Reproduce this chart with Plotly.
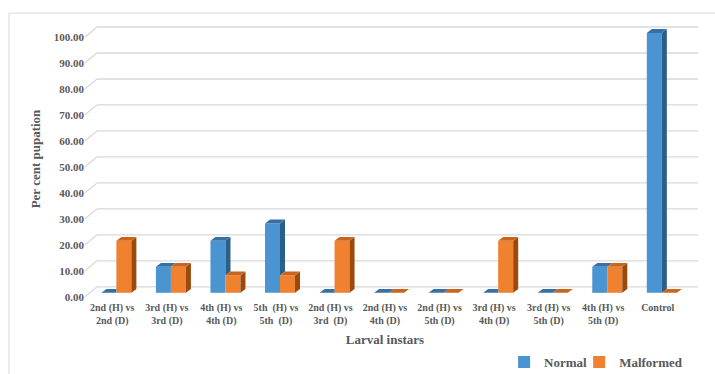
import plotly.graph_objects as go

categories = ["2nd (H) vs<br>2nd (D)", "3rd (H) vs<br>3rd (D)", "4th (H) vs<br>4th (D)",
              "5th  (H) vs<br>5th  (D)", "2nd (H) vs<br>3rd  (D)", "2nd (H) vs<br>4th (D)",
              "2nd (H) vs<br>5th (D)", "3rd (H) vs<br>4th (D)", "3rd (H) vs<br>5th (D)",
              "4th (H) vs<br>5th (D)", "Control"]
normal = [0, 10, 20, 26.67, 0, 0, 0, 0, 0, 10, 100]
malformed = [20, 10, 6.67, 6.67, 20, 0, 0, 20, 0, 10, 0]
y_ticks = [0, 10, 20, 30, 40, 50, 60, 70, 80, 90, 100]
y_ticktext = ["%.2f" % v for v in y_ticks]

FONT = "Liberation Serif, Times New Roman, serif"
GREY = "#595959"
BLUE, BLUE_SIDE, BLUE_TOP = "#4a94d2", "#2c5f87", "#3670a5"
ORANGE, ORANGE_SIDE, ORANGE_TOP = "#f0822f", "#9a4a0d", "#c9651c"

W = 0.275      # bar front width (x units)
OFF_B = -0.2   # blue offset
OFF_O = OFF_B + W
DX = 0.092     # depth in x units
DY = 1.5       # depth in y units
BACK = 2.3     # back wall offset (y units)
FRONT = -1.5   # label plane offset

xs = list(range(len(categories)))

fig = go.Figure()
fig.add_trace(go.Bar(x=xs, y=normal, name="Normal", marker=dict(color=BLUE, line=dict(width=0)),
                     width=W, offset=OFF_B, legend="legend"))
fig.add_trace(go.Bar(x=xs, y=malformed, name="Malformed", marker=dict(color=ORANGE, line=dict(width=0)),
                     width=W, offset=OFF_O, legend="legend2"))

def poly(pts, color):
    path = "M " + " L ".join("%f,%f" % p for p in pts) + " Z"
    return dict(type="path", path=path, xref="x", yref="y", fillcolor=color,
                line=dict(width=0), layer="above")

shapes = []
# back-wall gridlines and diagonal connectors
for v in y_ticks:
    shapes.append(dict(type="line", xref="paper", yref="y", x0=0.02, x1=1.022,
                       y0=v + BACK, y1=v + BACK, line=dict(color="#d9d9d9", width=1.3), layer="below"))
    shapes.append(dict(type="line", xref="paper", yref="y", x0=0.0, x1=0.02,
                       y0=v + FRONT, y1=v + BACK, line=dict(color="#d9d9d9", width=1.3), layer="below"))

for i, (b, o) in enumerate(zip(normal, malformed)):
    bx0 = i + OFF_B
    bx1 = bx0 + W
    if b > o:
        shapes.append(poly([(bx1, o), (bx1 + DX, o + DY), (bx1 + DX, b + DY), (bx1, b)], BLUE_SIDE))
        shapes.append(poly([(bx0, b), (bx1, b), (bx1 + DX, b + DY), (bx0 + DX, b + DY)], BLUE_TOP))
    elif b == o:
        shapes.append(poly([(bx0, b), (bx1, b), (bx1 + DX, b + DY), (bx0 + DX, b + DY)], BLUE_TOP))
    else:
        shapes.append(poly([(bx0, b), (bx1, b), (bx1, b + DY), (bx0 + DX, b + DY)], BLUE_TOP))
    ox0 = i + OFF_O
    ox1 = ox0 + W
    shapes.append(poly([(ox1, 0), (ox1 + DX, DY), (ox1 + DX, o + DY), (ox1, o)], ORANGE_SIDE))
    shapes.append(poly([(ox0, o), (ox1, o), (ox1 + DX, o + DY), (ox0 + DX, o + DY)], ORANGE_TOP))

# chart border (left and top visible)
shapes.append(dict(type="rect", xref="paper", yref="paper", x0=-0.1267, x1=1.2,
                   y0=-0.4, y1=1.025, line=dict(color="#d9d9d9", width=1), fillcolor="rgba(0,0,0,0)",
                   layer="below"))

legend_common = dict(orientation="h", xref="container", yref="container", y=0.032,
                     xanchor="left", yanchor="middle",
                     font=dict(family=FONT, size=13, color=GREY, weight="bold"),
                     bgcolor="rgba(0,0,0,0)")

fig.update_layout(
    width=715, height=374,
    margin=dict(l=85, r=30, t=20, b=76, autoexpand=False),
    paper_bgcolor="white", plot_bgcolor="white",
    barmode="overlay",
    shapes=shapes,
    font=dict(family=FONT, color=GREY),
    xaxis=dict(range=[-0.5, 10.5], tickvals=xs, ticktext=categories, showgrid=False,
               zeroline=False, showline=False, ticks="", automargin=False, ticklabelstandoff=2,
               tickfont=dict(family=FONT, size=10, color=GREY, weight="bold"),
               title=dict(text="<b>Larval instars</b>", font=dict(family=FONT, size=13, color=GREY),
                          standoff=17)),
    yaxis=dict(range=[-2, 105], tickvals=[v + FRONT for v in y_ticks], ticktext=y_ticktext,
               showgrid=False, zeroline=False, showline=False, ticks="", automargin=False,
               tickfont=dict(family=FONT, size=11, color=GREY, weight="bold"),
               title=dict(text="<b>Per cent pupation</b>", font=dict(family=FONT, size=13, color=GREY),
                          standoff=10)),
    legend=dict(x=0.705, **legend_common),
    legend2=dict(x=0.81, **legend_common),
    showlegend=True,
)

fig.write_html("out.html")
